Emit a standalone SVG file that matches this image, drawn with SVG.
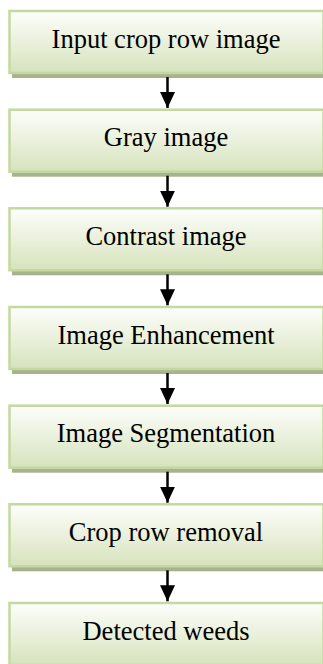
<svg xmlns="http://www.w3.org/2000/svg" width="323" height="664" viewBox="0 0 323 664">
  <defs>
    <linearGradient id="boxFill" x1="0" y1="0" x2="0" y2="1">
      <stop offset="0" stop-color="#fdfefb"/>
      <stop offset="1" stop-color="#d6e3bd"/>
    </linearGradient>
    <marker id="arrowHead" viewBox="0 0 16 15" markerWidth="16" markerHeight="15" refX="16" refY="7.5" orient="auto" markerUnits="userSpaceOnUse">
      <path d="M0,0 L16,7.5 L0,15 Z" fill="#000"/>
    </marker>
    <style>
      .shadow { fill: #a7b28f; }
      .box { fill: url(#boxFill); stroke: #c5d99f; stroke-width: 2.5; }
      .label { font-family: "Liberation Serif", "Times New Roman", serif; font-size: 26.5px; fill: #000; text-anchor: middle; }
      .conn { stroke: #000; stroke-width: 2.5; fill: none; }
    </style>
  </defs>

  <!-- process steps -->
  <g id="step-input">
    <rect class="shadow" x="12" y="16" width="311" height="62"/>
    <rect class="box" x="9.5" y="11" width="314" height="62"/>
    <text class="label" x="166" y="47.5">Input crop row image</text>
  </g>
  <g id="step-gray">
    <rect class="shadow" x="12" y="114.7" width="311" height="62"/>
    <rect class="box" x="9.5" y="109.7" width="314" height="62"/>
    <text class="label" x="166" y="146.2">Gray image</text>
  </g>
  <g id="step-contrast">
    <rect class="shadow" x="12" y="213.3" width="311" height="62"/>
    <rect class="box" x="9.5" y="208.3" width="314" height="62"/>
    <text class="label" x="166" y="244.8">Contrast image</text>
  </g>
  <g id="step-enhancement">
    <rect class="shadow" x="12" y="312" width="311" height="62"/>
    <rect class="box" x="9.5" y="307" width="314" height="62"/>
    <text class="label" x="166" y="343.5">Image Enhancement</text>
  </g>
  <g id="step-segmentation">
    <rect class="shadow" x="12" y="410.7" width="311" height="62"/>
    <rect class="box" x="9.5" y="405.7" width="314" height="62"/>
    <text class="label" x="166" y="442.2">Image Segmentation</text>
  </g>
  <g id="step-removal">
    <rect class="shadow" x="12" y="509.3" width="311" height="62"/>
    <rect class="box" x="9.5" y="504.3" width="314" height="62"/>
    <text class="label" x="166" y="540.8">Crop row removal</text>
  </g>
  <g id="step-detected">
    <rect class="shadow" x="12" y="608" width="311" height="62"/>
    <rect class="box" x="9.5" y="603" width="314" height="62"/>
    <text class="label" x="166" y="639.5">Detected weeds</text>
  </g>

  <!-- connectors -->
  <g id="connectors">
    <line class="conn" x1="167.5" y1="77" x2="167.5" y2="108" marker-end="url(#arrowHead)"/>
    <line class="conn" x1="167.5" y1="175.7" x2="167.5" y2="206.7" marker-end="url(#arrowHead)"/>
    <line class="conn" x1="167.5" y1="274.3" x2="167.5" y2="305.3" marker-end="url(#arrowHead)"/>
    <line class="conn" x1="167.5" y1="373" x2="167.5" y2="404" marker-end="url(#arrowHead)"/>
    <line class="conn" x1="167.5" y1="471.7" x2="167.5" y2="502.7" marker-end="url(#arrowHead)"/>
    <line class="conn" x1="167.5" y1="570.3" x2="167.5" y2="601.3" marker-end="url(#arrowHead)"/>
  </g>
</svg>
